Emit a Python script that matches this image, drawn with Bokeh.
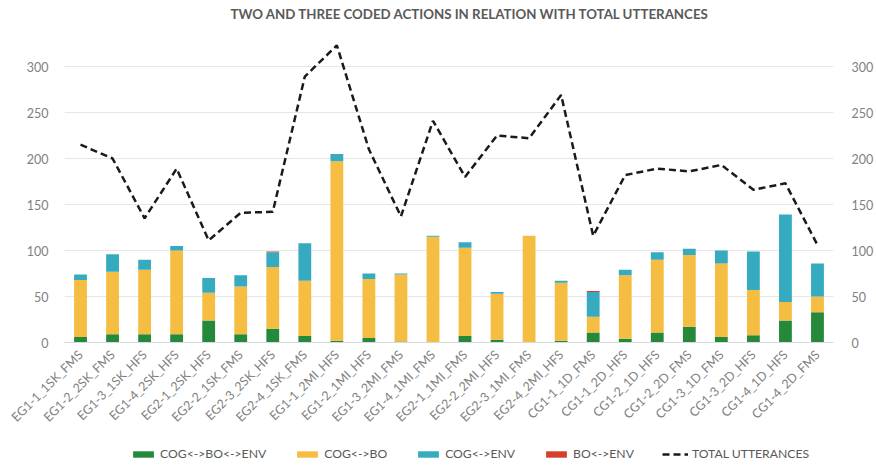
from bokeh.plotting import figure
from bokeh.models import (ColumnDataSource, FactorRange, LinearAxis, Legend, LegendItem,
                          FixedTicker, Range1d, Title)
from bokeh.layouts import column
from bokeh.embed import file_html
from bokeh.resources import INLINE
import math

categories = ["EG1-1_1SK_FMS", "EG1-2_2SK_FMS", "EG1-3_1SK_HFS", "EG1-4_2SK_HFS",
              "EG2-1_2SK_HFS", "EG2-2_1SK_FMS", "EG2-3_2SK_HFS", "EG2-4_1SK_FMS",
              "EG1-1_2MI_HFS", "EG1-2_1MI_HFS", "EG1-3_2MI_FMS", "EG1-4_1MI_FMS",
              "EG2-1_1MI_FMS", "EG2-2_2MI_HFS", "EG2-3_1MI_FMS", "EG2-4_2MI_HFS",
              "CG1-1_1D_FMS", "CG1-1_2D_HFS", "CG1-2_1D_HFS", "CG1-2_2D_FMS",
              "CG1-3_1D_FMS", "CG1-3_2D_HFS", "CG1-4_1D_HFS", "CG1-4_2D_FMS"]

cog_bo_env = [6, 9, 9, 9, 24, 9, 15, 7, 2, 5, 1, 0, 7, 3, 0, 2, 11, 4, 11, 17, 6, 8, 24, 33]
cog_bo = [62, 68, 70, 91, 30, 52, 67, 60, 195, 64, 73, 115, 96, 50, 116, 63, 17, 69, 79, 78, 80, 49, 20, 17]
cog_env = [6, 19, 11, 5, 16, 12, 16, 41, 8, 6, 1, 1, 6, 2, 0, 2, 27, 6, 8, 7, 14, 42, 95, 36]
bo_env = [0, 0, 0, 0, 0, 0, 1, 0, 0, 0, 0, 0, 0, 0, 0, 0, 1, 0, 0, 0, 0, 0, 0, 0]
total_utterances = [215, 200, 135, 189, 111, 141, 142, 289, 323, 210, 137, 241, 180, 225, 222, 269,
                    116, 182, 189, 186, 193, 166, 173, 106]

title_text = "TWO AND THREE CODED ACTIONS IN RELATION WITH TOTAL UTTERANCES"
series_names = ["COG<->BO<->ENV", "COG<->BO", "COG<->ENV", "BO<->ENV"]
line_name = "TOTAL UTTERANCES"
series_keys = ["s1", "s2", "s3", "s4"]
colors = ["#24893A", "#F5BD41", "#36AABF", "#D6402A"]
y_ticks = [0, 50, 100, 150, 200, 250, 300]

source = ColumnDataSource(dict(cat=categories, s1=cog_bo_env, s2=cog_bo, s3=cog_env,
                               s4=bo_env, total=total_utterances))

FONT = "Lato"
GRAY = "#7F7F7F"
LINE_COLOR = "#1A1A1A"
LINE_DASH = "7 4"
LABEL_SIZE = "12.5px"

p = figure(width=876, height=434, x_range=FactorRange(*categories), y_range=(0, 325),
           output_backend="svg", toolbar_location=None, title=title_text)
p.min_border_left = 64
p.min_border_right = 32
p.min_border_top = 43
p.min_border_bottom = 92
p.outline_line_color = None
p.background_fill_color = "white"

p.title.align = "left"
p.title.offset = 166
p.title.text_color = "#595959"
p.title.text_font = FONT
p.title.text_font_size = "13.3px"
p.title.text_font_style = "bold"
p.title.standoff = 0
# empty spacer title between the real title and the frame
p.add_layout(Title(text=" ", text_font_size="18px", standoff=0), "above")

bars = p.vbar_stack(series_keys, x="cat", width=0.4, color=colors, source=source,
                    line_color=None)
line = p.line(x="cat", y="total", source=source, line_color=LINE_COLOR, line_width=2.5,
              line_dash=LINE_DASH)

p.xgrid.grid_line_color = None
p.ygrid.grid_line_color = "#E6E6E6"
p.ygrid.ticker = FixedTicker(ticks=y_ticks)

ax = p.yaxis[0]
ax.ticker = FixedTicker(ticks=y_ticks)
ax.axis_line_color = None
ax.major_tick_line_color = None
ax.minor_tick_line_color = None
ax.major_label_text_color = GRAY
ax.major_label_text_font = FONT
ax.major_label_text_font_size = LABEL_SIZE
ax.major_label_standoff = 10

right = LinearAxis(ticker=FixedTicker(ticks=y_ticks))
right.axis_line_color = None
right.major_tick_line_color = None
right.minor_tick_line_color = None
right.major_label_text_color = GRAY
right.major_label_text_font = FONT
right.major_label_text_font_size = LABEL_SIZE
right.major_label_standoff = 12
p.add_layout(right, "right")

xa = p.xaxis[0]
xa.axis_line_color = "#D9D9D9"
xa.major_tick_line_color = None
xa.minor_tick_line_color = None
xa.major_label_orientation = math.pi / 4
xa.major_label_text_color = GRAY
xa.major_label_text_font = FONT
xa.major_label_text_font_size = LABEL_SIZE
xa.major_label_standoff = 4

# legend strip: same series drawn on a range where they fall out of view,
# so only their legend swatches show
lg = figure(width=876, height=32, output_backend="svg", toolbar_location=None,
            x_range=p.x_range, y_range=Range1d(1000, 1010))
lg.axis.visible = False
lg.grid.visible = False
lg.outline_line_color = None
lg.min_border = 0
lg.min_border_left = 64
lg.min_border_right = 32
lg_bars = lg.vbar_stack(series_keys, x="cat", width=0.4, color=colors, source=source,
                        line_color=None)
lg_line = lg.line(x="cat", y="total", source=source, line_color=LINE_COLOR, line_width=2.5,
                  line_dash=LINE_DASH)
items = [LegendItem(label=n, renderers=[r]) for n, r in zip(series_names, lg_bars)]
items.append(LegendItem(label=line_name, renderers=[lg_line]))
legend = Legend(items=items, orientation="horizontal", location=(66, 5),
                glyph_width=26, glyph_height=8, spacing=28, label_standoff=4,
                label_text_font=FONT, label_text_font_size="12.2px",
                label_text_color="#595959", border_line_color=None,
                background_fill_alpha=0, padding=0, margin=0)
legend.label_height = 10
lg.add_layout(legend, "center")

layout = column(p, lg, spacing=0)
open("out.html", "w").write(file_html(layout, INLINE))
